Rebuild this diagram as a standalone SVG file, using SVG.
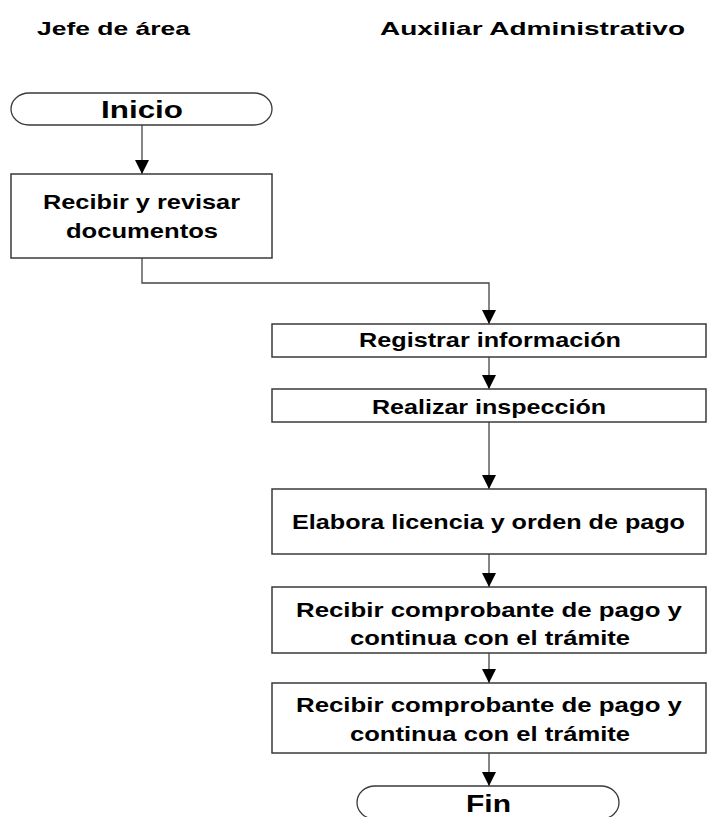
<svg xmlns="http://www.w3.org/2000/svg" width="707" height="817" viewBox="0 0 707 817">
<defs>
<style>
.bg{fill:#ffffff}
.box{fill:#ffffff;stroke:#3a3a3a;stroke-width:1.5}
.term{fill:#ffffff;stroke:#3a3a3a;stroke-width:1.3}
.t{font-family:"Liberation Sans",Arial,sans-serif;font-weight:bold;fill:#000000}
.hd{font-size:19px}
.lb{font-size:21px}
.tm{font-size:24px}
.con{fill:none;stroke:#444444;stroke-width:1.3}
</style>
<marker id="ah" markerUnits="userSpaceOnUse" markerWidth="14" markerHeight="14" refX="14" refY="7" orient="auto" viewBox="0 0 14 14">
<path d="M0,0 L14,7 L0,14 Z" fill="#000000"/>
</marker>
</defs>
<rect class="bg" x="0" y="0" width="707" height="817"/>
<g id="headers">
<text class="t hd" x="37" y="35" textLength="153" lengthAdjust="spacingAndGlyphs">Jefe de área</text>
<text class="t hd" x="380" y="35" textLength="305" lengthAdjust="spacingAndGlyphs">Auxiliar Administrativo</text>
</g>
<g id="connectors">
<path class="con" d="M142,125 V174" marker-end="url(#ah)"/>
<path class="con" d="M142,258 V283 H489 V324" marker-end="url(#ah)"/>
<path class="con" d="M489,357 V389" marker-end="url(#ah)"/>
<path class="con" d="M489,422 V489" marker-end="url(#ah)"/>
<path class="con" d="M489,554 V587" marker-end="url(#ah)"/>
<path class="con" d="M489,653 V683" marker-end="url(#ah)"/>
<path class="con" d="M489,753 V786" marker-end="url(#ah)"/>
</g>
<g id="inicio">
<path class="term" d="M29,93 H254 A18,16 0 0 1 254,125 H29 A18,16 0 0 1 29,93 Z"/>
<text class="t tm" x="101" y="118" textLength="82" lengthAdjust="spacingAndGlyphs">Inicio</text>
</g>
<g id="recibir-revisar">
<rect class="box" x="11" y="174" width="261" height="84"/>
<text class="t lb" x="43" y="209" textLength="197" lengthAdjust="spacingAndGlyphs">Recibir y revisar</text>
<text class="t lb" x="66" y="238" textLength="152" lengthAdjust="spacingAndGlyphs">documentos</text>
</g>
<g id="registrar">
<rect class="box" x="272" y="324" width="434" height="33"/>
<text class="t lb" x="359" y="347" textLength="262" lengthAdjust="spacingAndGlyphs">Registrar información</text>
</g>
<g id="realizar">
<rect class="box" x="272" y="389" width="434" height="33"/>
<text class="t lb" x="372" y="414" textLength="234" lengthAdjust="spacingAndGlyphs">Realizar inspección</text>
</g>
<g id="elabora">
<rect class="box" x="272" y="489" width="434" height="65"/>
<text class="t lb" x="292" y="529" textLength="393" lengthAdjust="spacingAndGlyphs">Elabora licencia y orden de pago</text>
</g>
<g id="recibir-comprobante-1">
<rect class="box" x="272" y="587" width="434" height="66"/>
<text class="t lb" x="296" y="617" textLength="386" lengthAdjust="spacingAndGlyphs">Recibir comprobante de pago y</text>
<text class="t lb" x="350" y="645" textLength="280" lengthAdjust="spacingAndGlyphs">continua con el trámite</text>
</g>
<g id="recibir-comprobante-2">
<rect class="box" x="272" y="683" width="434" height="70"/>
<text class="t lb" x="296" y="712" textLength="386" lengthAdjust="spacingAndGlyphs">Recibir comprobante de pago y</text>
<text class="t lb" x="350" y="741" textLength="280" lengthAdjust="spacingAndGlyphs">continua con el trámite</text>
</g>
<g id="fin">
<path class="term" d="M375,786 H601 A18,16.5 0 0 1 601,819 H375 A18,16.5 0 0 1 375,786 Z"/>
<text class="t tm" x="466" y="812" textLength="45" lengthAdjust="spacingAndGlyphs">Fin</text>
</g>
</svg>
